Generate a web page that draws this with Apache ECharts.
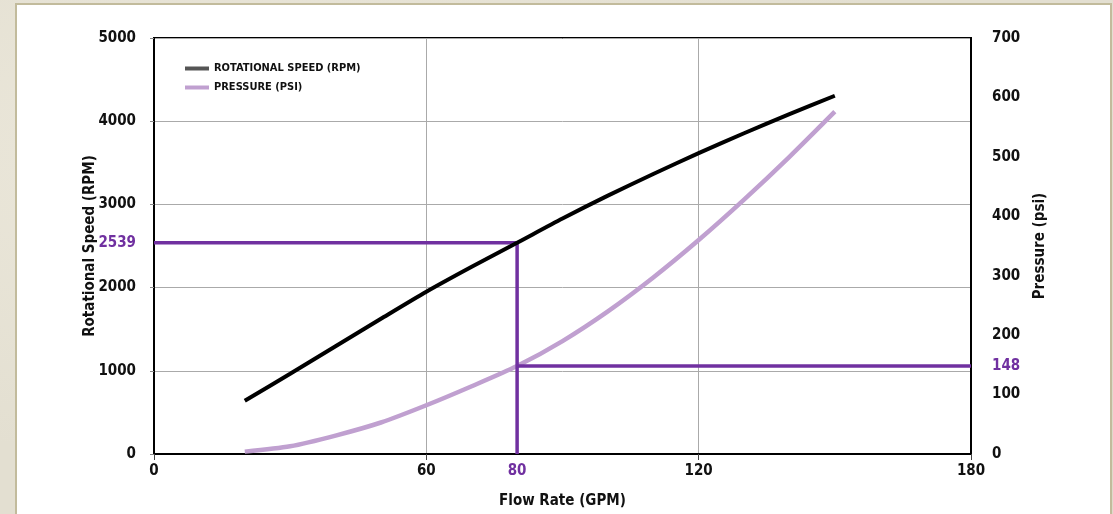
<!DOCTYPE html>
<html>
<head>
<meta charset="utf-8">
<script src="https://cdn.jsdelivr.net/npm/echarts@6/dist/echarts.min.js"></script>
<style>
  html, body { margin:0; padding:0; width:1113px; height:514px; overflow:hidden;
    background:#e3dfd1;
    background-image: radial-gradient(ellipse at 20% 30%, #ebe7da 0%, transparent 60%), radial-gradient(ellipse at 80% 80%, #dcd7c6 0%, transparent 55%); }
  #panel { position:absolute; left:15px; top:3px; width:1097px; height:520px; background:#fff;
    border:2px solid #c2bb9c; box-sizing:border-box; }
  #chart { position:absolute; left:0; top:0; width:1113px; height:514px; }
</style>
</head>
<body>
<div id="panel"></div>
<div id="chart"></div>
<script>
// ---- data ----
const flowRate = [20, 30, 40, 50, 60, 70, 80, 90, 100, 110, 120, 130, 140, 150];
const rotationalSpeed = [640, 965, 1295, 1625, 1950, 2250, 2539, 2830, 3105, 3365, 3616, 3855, 4085, 4306];
const pressure = [4, 13, 31, 53, 82, 114, 148, 190, 240, 297, 360, 428, 500, 576];
const refFlow = 80;
const refRpm = 2539;
const refPsi = 148;
const xTicks = [0, 60, 120, 180];
const rpmTicks = [0, 1000, 2000, 3000, 4000, 5000];
const psiTicks = [0, 100, 200, 300, 400, 500, 600, 700];
const seriesNames = ['ROTATIONAL SPEED (RPM)', 'PRESSURE (PSI)'];

const FONT = '"Liberation Sans Narrow", "DejaVu Sans Condensed", "Noto Sans", sans-serif';
const PURPLE = '#7030a0';
const LAV = '#c0a0d0';

function withRef(list, ref) { return list.concat([ref]).sort((a, b) => a - b); }
function fmt(ref) {
  return function (v) { return v === ref ? '{p|' + v + '}' : '{n|' + v + '}'; };
}
const rich = {
  n: { fontFamily: FONT, fontWeight: 'bold', fontSize: 15, color: '#111' },
  p: { fontFamily: FONT, fontWeight: 'bold', fontSize: 15, color: PURPLE }
};

const chart = echarts.init(document.getElementById('chart'));
chart.setOption({
  backgroundColor: 'transparent',
  animation: false,
  grid: { left: 154, right: 142, top: 38, bottom: 59, show: true, borderColor: '#000', borderWidth: 2, backgroundColor: 'transparent' },
  legend: {
    left: 180, top: 58, orient: 'vertical', itemWidth: 24, itemHeight: 4, itemGap: 8, icon: 'rect',
    textStyle: { fontFamily: FONT, fontWeight: 'bold', fontSize: 11, color: '#111' },
    data: [
      { name: seriesNames[0], itemStyle: { color: '#555' } },
      { name: seriesNames[1], itemStyle: { color: LAV } }
    ]
  },
  xAxis: {
    type: 'value', min: 0, max: 180, interval: 60,
    name: 'Flow Rate (GPM)', nameLocation: 'middle', nameGap: 40,
    nameTextStyle: { fontFamily: FONT, fontWeight: 'bold', fontSize: 15, color: '#111' },
    axisLine: { lineStyle: { color: '#000', width: 2 } },
    axisTick: { show: true, length: 6, lineStyle: { color: '#444' } },
    axisLabel: { customValues: withRef(xTicks, refFlow), formatter: fmt(refFlow), rich: rich, margin: 10 },
    splitLine: { show: true, lineStyle: { color: '#aaa', width: 1 } }
  },
  yAxis: [
    {
      type: 'value', min: 0, max: 5000, interval: 1000, position: 'left',
      name: 'Rotational Speed (RPM)', nameLocation: 'middle', nameGap: 56, nameRotate: 90, nameMoveOverlap: false,
      nameTextStyle: { fontFamily: FONT, fontWeight: 'bold', fontSize: 15, color: '#111' },
      axisLine: { show: true, lineStyle: { color: '#000', width: 2 } },
      axisTick: { show: true, length: 4, lineStyle: { color: '#888' } },
      axisLabel: { customValues: withRef(rpmTicks, refRpm), formatter: fmt(refRpm), rich: rich, margin: 18 },
      splitLine: { show: true, lineStyle: { color: '#aaa', width: 1 } }
    },
    {
      type: 'value', min: 0, max: 700, interval: 100, position: 'right',
      name: 'Pressure (psi)', nameLocation: 'middle', nameGap: 62, nameRotate: 90,
      nameTextStyle: { fontFamily: FONT, fontWeight: 'bold', fontSize: 15, color: '#111' },
      axisLine: { show: true, lineStyle: { color: '#000', width: 2 } },
      axisTick: { show: false },
      axisLabel: { customValues: withRef(psiTicks, refPsi), formatter: fmt(refPsi), rich: rich, margin: 21, align: 'left' },
      splitLine: { show: false }
    }
  ],
  series: [
    {
      name: seriesNames[1], type: 'line', yAxisIndex: 1, smooth: 0.25, showSymbol: false,
      data: flowRate.map((f, i) => [f, pressure[i]]),
      lineStyle: { color: LAV, width: 4.5 }, itemStyle: { color: LAV }, z: 2
    },
    {
      name: 'refRpm', type: 'line', yAxisIndex: 0, showSymbol: false, silent: true,
      data: [[0, refRpm], [refFlow, refRpm], [refFlow, 0]],
      lineStyle: { color: PURPLE, width: 3.5 }, z: 3
    },
    {
      name: 'refPsi', type: 'line', yAxisIndex: 1, showSymbol: false, silent: true,
      data: [[refFlow, refPsi], [180, refPsi]],
      lineStyle: { color: PURPLE, width: 3.5 }, z: 3
    },
    {
      name: seriesNames[0], type: 'line', yAxisIndex: 0, smooth: 0.25, showSymbol: false,
      data: flowRate.map((f, i) => [f, rotationalSpeed[i]]),
      lineStyle: { color: '#000', width: 4 }, itemStyle: { color: '#000' }, z: 4
    }
  ]
});
</script>
</body>
</html>
